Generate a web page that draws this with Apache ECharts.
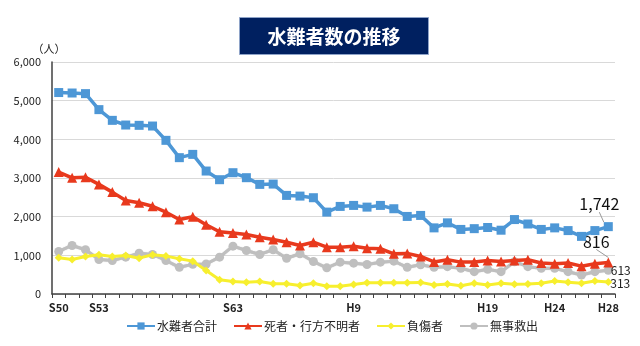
<!DOCTYPE html>
<html>
<head>
<meta charset="utf-8">
<script src="https://cdn.jsdelivr.net/npm/echarts@6/dist/echarts.min.js"></script>
<style>
  html, body { margin: 0; padding: 0; background: #fff; }
  #chart { width: 640px; height: 346px; }
</style>
</head>
<body>
<div id="chart"></div>
<script>
// 年次（昭和50年〜平成28年）
const years = [
  'S50','S51','S52','S53','S54','S55','S56','S57','S58','S59','S60','S61','S62','S63',
  'H1','H2','H3','H4','H5','H6','H7','H8','H9','H10','H11','H12','H13','H14','H15','H16',
  'H17','H18','H19','H20','H21','H22','H23','H24','H25','H26','H27','H28'
];
// 軸に表示する年次
const shownYears = ['S50','S53','S63','H9','H19','H24','H28'];

// 水難者合計
const totalVictims = [5210,5198,5182,4768,4491,4370,4362,4344,3974,3526,3611,3180,2956,3137,3008,2835,2843,2550,2532,2490,2118,2265,2291,2247,2291,2205,2006,2032,1710,1840,1670,1690,1720,1650,1925,1810,1670,1710,1640,1490,1640,1742];
// 死者・行方不明者
const deadMissing = [3153,3005,3020,2835,2635,2420,2360,2270,2115,1925,2000,1790,1610,1575,1540,1470,1410,1340,1255,1340,1210,1210,1237,1185,1170,1040,1050,970,830,885,825,825,865,840,865,885,800,780,800,720,780,816];
// 負傷者
const injured = [937,893,970,1015,970,997,927,1015,980,911,850,608,370,323,306,323,264,264,220,280,202,202,245,290,290,290,290,300,232,258,215,276,232,276,250,258,276,336,302,276,336,313];
// 無事救出
const rescued = [1100,1255,1145,893,867,953,1056,1023,867,690,767,775,953,1237,1125,1023,1145,925,1040,840,677,823,797,763,823,850,690,755,690,707,664,577,638,577,835,707,664,664,577,491,577,613];

const yTicks = { min: 0, max: 6000, interval: 1000 };

const FONT = '"Noto Sans CJK JP", "Noto Sans", sans-serif';
const fmt = v => Number(v).toLocaleString('en-US');

// 最終年だけ値ラベルを付ける
function withLastLabel(values, label) {
  return values.map((v, i) => i === values.length - 1
    ? { value: v, label: Object.assign({ show: true, formatter: p => fmt(p.value) }, label) }
    : v);
}

const chart = echarts.init(document.getElementById('chart'), null, { renderer: 'canvas' });

chart.setOption({
  animation: false,
  textStyle: { fontFamily: FONT },
  grid: { left: 52, right: 25, top: 62, bottom: 52 },
  graphic: [
    {
      type: 'group',
      left: 239, top: 17,
      children: [
        { type: 'rect', shape: { x: 0, y: 0, width: 189, height: 37 },
          style: { fill: '#002060', stroke: '#8ea3c8', lineWidth: 1 } },
        { type: 'text', x: 94.5, y: 19,
          style: { text: '水難者数の推移', fill: '#ffffff', font: 'bold 19px ' + FONT,
                   align: 'center', verticalAlign: 'middle' } }
      ]
    }
  ],
  legend: {
    bottom: 9,
    left: 121,
    itemWidth: 28,
    itemHeight: 9,
    itemGap: 16,
    data: ['水難者合計', '死者・行方不明者', '負傷者', '無事救出'],
    textStyle: { fontSize: 12, color: '#222', fontFamily: FONT, padding: [0, 0, 0, -3] }
  },
  xAxis: {
    type: 'category',
    data: years,
    boundaryGap: true,
    axisLine: { lineStyle: { color: '#404040', width: 1.5 } },
    axisTick: { show: true, interval: 0, length: 4, lineStyle: { color: '#404040' } },
    axisLabel: {
      interval: 0,
      color: '#222',
      fontSize: 11,
      fontWeight: 'bold',
      margin: 8,
      formatter: v => shownYears.includes(v) ? v : ''
    }
  },
  yAxis: {
    type: 'value',
    min: yTicks.min, max: yTicks.max, interval: yTicks.interval,
    name: '（人）',
    nameLocation: 'end',
    nameGap: 8,
    nameTextStyle: { color: '#222', fontSize: 11, align: 'center', padding: [0, 0, 0, -6] },
    axisLine: { show: true, lineStyle: { color: '#404040', width: 1.5 } },
    axisTick: { show: false },
    splitLine: { lineStyle: { color: '#d9d9d9' } },
    axisLabel: {
      color: '#222', fontSize: 11, margin: 11,
      formatter: v => fmt(v)
    }
  },
  series: [
    {
      name: '無事救出', type: 'line', z: 2,
      data: withLastLabel(rescued, { position: 'right', distance: -2, fontSize: 12, color: '#222' }),
      symbol: 'circle', symbolSize: 9,
      itemStyle: { color: '#bfbfbf' },
      lineStyle: { color: '#bfbfbf', width: 3, shadowColor: 'rgba(0,0,0,0.25)', shadowBlur: 1 }
    },
    {
      name: '負傷者', type: 'line', z: 3,
      data: withLastLabel(injured, { position: 'right', distance: -2, offset: [0, 2], fontSize: 12, color: '#222' }),
      symbol: 'diamond', symbolSize: 8,
      itemStyle: { color: '#f7ef2e' },
      lineStyle: { color: '#f7ef2e', width: 3 }
    },
    {
      name: '死者・行方不明者', type: 'line', z: 4,
      data: withLastLabel(deadMissing, { position: 'top', fontSize: 16, color: '#111' }),
      symbol: 'triangle', symbolSize: 10,
      itemStyle: { color: '#e8391d' },
      lineStyle: { color: '#e8391d', width: 3.5 },
      labelLine: { show: true, minTurnAngle: 0, lineStyle: { color: '#999', width: 1 } },
      labelLayout: { dx: -12, dy: -3 }
    },
    {
      name: '水難者合計', type: 'line', z: 5,
      data: withLastLabel(totalVictims, { position: 'top', fontSize: 16, color: '#111' }),
      symbol: 'rect', symbolSize: 9,
      itemStyle: { color: '#4d97d6' },
      lineStyle: { color: '#4d97d6', width: 3.5 },
      labelLine: { show: true, lineStyle: { color: '#999', width: 1 } },
      labelLayout: { dx: -9, dy: -5 }
    }
  ]
});
</script>
</body>
</html>
